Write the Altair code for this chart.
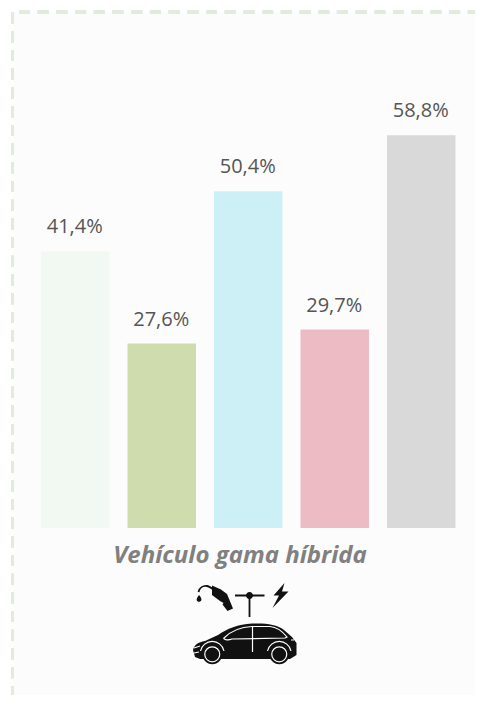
import altair as alt
import pandas as pd

categories = ["a", "b", "c", "d", "e"]
values = [41.4, 27.6, 50.4, 29.7, 58.8]
labels = ["41,4%", "27,6%", "50,4%", "29,7%", "58,8%"]
colors = ["#f2f8f2", "#cedcae", "#cdf0f6", "#ecbbc4", "#d9d9d9"]
title_text = "Vehículo gama híbrida"

# icon glyphs (drawn as custom symbol shapes)
ICON_FILLED = [
    "M32,15.5 L41,19.5 L47,24 L53,38.5 L47.5,41 L42.5,34.5 L43.5,33 L40,31 L32,25 Z",
    "M19,25 C21,27 21.8,29 21.3,30.3 A2.5,2.5 0 0 1 16.7,30.3 C16.2,29 17.5,27 19,25 Z",
    "M66,25.5 A3.5,3.5 0 1 1 73,25.5 A3.5,3.5 0 1 1 66,25.5 Z",
    "M104.5,13 L93.5,25.5 L99,25.5 L92.5,38 L108.5,21.5 L102,21.5 Z",
    "M13,80 C14,75 18,72 25,71 L38,65 C47,59 58,54 72,53.5 C85,53 97,54 104,60 L112,67 L116.5,73 L116.5,85 L110,89 L20,89 L15,87 Z",
    "M22.3,84.3 A10,10 0 1 1 42.3,84.3 A10,10 0 1 1 22.3,84.3 Z",
    "M89.3,84.3 A10,10 0 1 1 109.3,84.3 A10,10 0 1 1 89.3,84.3 Z",
]
ICON_BLACK_LINES = [
    "M18.5,22 C19.5,18 23,15.5 27,16 C29,16.3 31,18 34,19.5",
    "M55,25.5 L84.5,25.5 M69.5,25.5 L69.5,47",
]
ICON_WHITE_LINES = [
    "M44,68 C50,62 60,57 72,56.5 L90,56.5 C97,57 103,62 107,67 L105,68 L52,69 C47,71 43,69 44,68 Z",
    "M72.5,56.5 L72.5,82",
    "M32.3,76.8 A7.5,7.5 0 1 1 32.2,76.8 Z",
    "M99.3,76.8 A7.5,7.5 0 1 1 99.2,76.8 Z",
    "M20.5,81 A12,12 0 0 1 44,81",
    "M87.5,81 A12,12 0 0 1 111,81",
    "M14,78 L20,76 M14,83 L19,82 M111,70 L114,70",
]

df = pd.DataFrame({"cat": categories, "v": values, "label": labels, "color": colors})

x = alt.X("cat:N", axis=None, sort=categories,
          scale=alt.Scale(domain=categories, range=[33, 447.5], paddingInner=0.208, paddingOuter=0))
y = alt.Y("v:Q", axis=None, scale=alt.Scale(domain=[0, 77.84], range=[520, 0]))

panel = alt.Chart(df).mark_rect(color="#fcfcfc").encode(
    x=alt.value(5), x2=alt.value(467), y=alt.value(4), y2=alt.value(687))

dash = dict(color="#e1ecdc", strokeWidth=3, strokeDash=[11, 7.7])
left = alt.Chart(df).mark_rule(**dash).encode(x=alt.value(4.5), y=alt.value(4.7), y2=alt.value(687))
top = alt.Chart(df).mark_rule(**dash).encode(y=alt.value(4), x=alt.value(11), x2=alt.value(467))

bars = alt.Chart(df).mark_bar().encode(
    x=x, y=y, color=alt.Color("color:N", scale=None))

text = alt.Chart(df).mark_text(
    font="Open Sans", fontSize=20, color="#555555", baseline="alphabetic", dy=-18, dx=-0.5
).encode(x=x, y=y, text="label:N")

title = alt.Chart(pd.DataFrame({"t": [title_text]})).mark_text(
    font="Open Sans", fontSize=24, fontWeight="bold", fontStyle="italic",
    color="#808080", align="center", baseline="alphabetic"
).encode(x=alt.value(232), y=alt.value(555), text="t:N")

def glyph(path, **kw):
    return alt.Chart(pd.DataFrame({"p": [path]})).mark_point(
        shape=path, size=4, opacity=1, **kw
    ).encode(x=alt.value(172), y=alt.value(562))

icon = []
for p in ICON_FILLED:
    icon.append(glyph(p, filled=True, color="#111111"))
for p in ICON_BLACK_LINES:
    icon.append(glyph(p, filled=False, color="#111111", strokeWidth=1.8))
for p in ICON_WHITE_LINES:
    icon.append(glyph(p, filled=False, color="#ffffff", strokeWidth=1.2))

chart = alt.layer(panel, left, top, bars, text, title, *icon).properties(
    width=467, height=687,
    autosize=alt.AutoSizeParams(type="none"),
    padding=0,
    background="#ffffff",
).configure_view(strokeWidth=0)

chart.save("out.html", embed_options={"renderer": "svg", "actions": False})
